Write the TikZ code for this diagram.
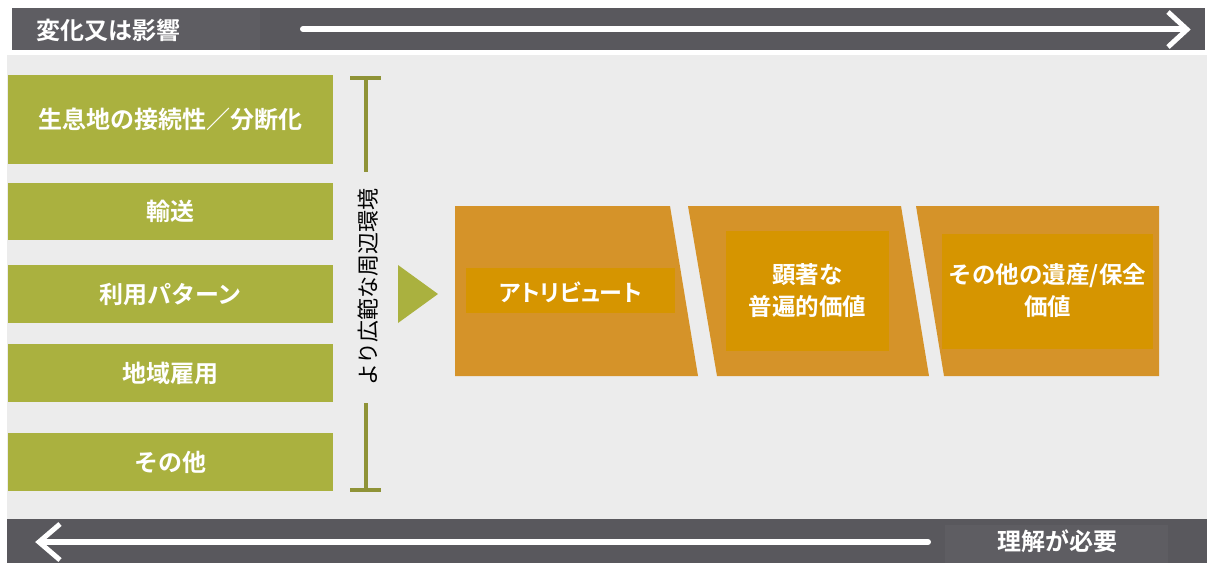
\documentclass[tikz,border=0pt]{standalone}
\usepackage{fontspec}
\setmainfont{Noto Sans CJK JP}[BoldFont={* Bold}]
\newfontfamily\jpb{Noto Sans CJK JP Bold}
\newfontfamily\jpbp{Noto Sans CJK JP Bold}[RawFeature=+palt]
\definecolor{barc}{HTML}{59585D}
\definecolor{barlt}{HTML}{5E5D62}
\definecolor{bgc}{HTML}{ECECEC}
\definecolor{grn}{HTML}{AAB13F}
\definecolor{dgrn}{HTML}{8F9337}
\definecolor{org}{HTML}{D59329}
\definecolor{dorg}{HTML}{D69500}
\tikzset{
  gbox/.style={fill=grn, draw=none, minimum width=325pt, inner sep=0pt, text=white, font=\jpb\fontsize{24}{28}\selectfont},
  wtxt/.style={text=white, font=\jpb\fontsize{23.5}{32}\selectfont, align=center, inner sep=0pt},
  ibox/.style={fill=dorg, draw=none, inner sep=0pt},
  chev/.style={draw=white, line width=5pt, line cap=butt},
  brk/.style={draw=dgrn, line width=4pt}
}
\begin{document}
\begin{tikzpicture}[x=1pt,y=-1pt]
\useasboundingbox (0,0) rectangle (1207,563);
\fill[white] (0,0) rectangle (1207,563);
% background
\fill[bgc] (7,55) rectangle (1207,519);
% top bar
\fill[barc] (12,8) rectangle (1205,50);
\fill[barlt] (12,8) rectangle (260,50);
\node[wtxt, font=\jpb\fontsize{24}{28}\selectfont] (top) at (108,30) {変化又は影響};
\coordinate (ts) at (303,29);
\coordinate (te) at (1185,29);
\draw[draw=white, line width=6pt, line cap=round] (ts) -- (te);
\draw[chev, line join=miter] (1168,12) -- (1187,29.5) -- (1168,47);
% bottom bar
\fill[barc] (7,519) rectangle (1207,563);
\fill[barlt] (945,525) rectangle (1168,563);
\node[wtxt, font=\jpb\fontsize{24}{28}\selectfont] (bot) at (1057,541) {理解が必要};
\coordinate (bs) at (928,542);
\coordinate (be) at (42,542);
\draw[draw=white, line width=6pt, line cap=round] (bs) -- (be);
\draw[chev, line join=miter] (60,524) -- (39,542) -- (60,560);
% green boxes
\node[gbox, minimum height=89pt] (g1) at (170.5,119.5) {生息地の接続性／分断化};
\node[gbox, minimum height=57pt] (g2) at (170.5,211.5) {輸送};
\node[gbox, minimum height=58pt] (g3) at (170.5,294) {利用パターン};
\node[gbox, minimum height=58pt] (g4) at (170.5,373) {地域雇用};
\node[gbox, minimum height=58pt] (g5) at (170.5,462) {その他};
% bracket
\coordinate (b1) at (366,78);
\coordinate (b2) at (366,172);
\coordinate (b3) at (366,403);
\coordinate (b4) at (366,490);
\draw[brk] (b1) -- (b2);
\draw[brk] (b3) -- (b4);
\draw[brk] (350,78) -- (381,78);
\draw[brk] (350,490) -- (381,490);
\node[rotate=90, inner sep=0pt, font=\fontsize{22}{26}\selectfont] (side) at (368,287) {より広範な周辺環境};
% triangle
\fill[grn] (398,265) -- (438,294) -- (398,323) -- cycle;
% orange shapes
\fill[org] (455,206) -- (670,206) -- (698,376) -- (455,376) -- cycle;
\fill[org] (688,206) -- (901,206) -- (929,376) -- (717,376) -- cycle;
\fill[org] (916,206) -- (1159,206) -- (1159,376) -- (944,376) -- cycle;
\fill[ibox] (466,268) rectangle (675,313);
\fill[ibox] (726,231) rectangle (889,351);
\fill[ibox] (942,234) rectangle (1153,349);
\node[wtxt, font=\jpbp\fontsize{23}{28}\selectfont] (a1) at (570.5,292) {アトリビュート};
\node[wtxt] (a2) at (807.5,291) {顕著な\\普遍的価値};
\node[wtxt] (a3) at (1047.5,291) {その他の遺産/保全\\価値};
\end{tikzpicture}
\end{document}
